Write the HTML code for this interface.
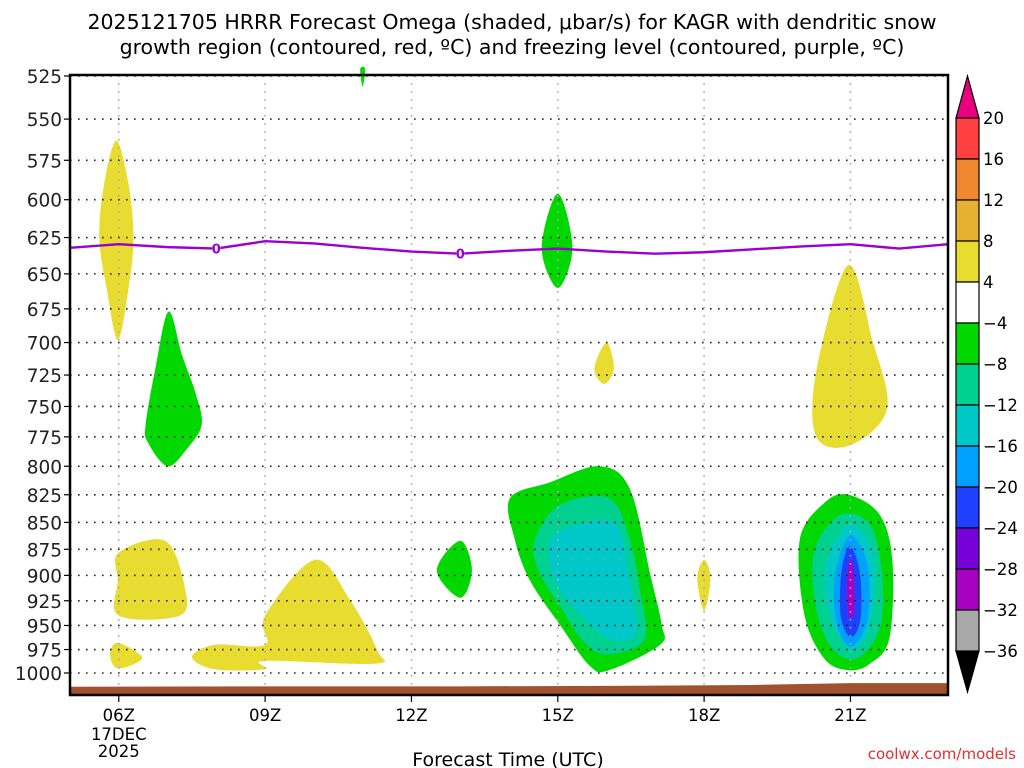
<!DOCTYPE html>
<html><head><meta charset="utf-8"><style>
html,body{margin:0;padding:0;background:#fff}
svg{display:block;font-family:"DejaVu Sans","Liberation Sans",sans-serif}
</style></head><body>
<svg id="chart" width="1024" height="768" viewBox="0 0 1024 768">
<text x="512" y="29" text-anchor="middle" font-size="20.5">2025121705 HRRR Forecast Omega (shaded, μbar/s) for KAGR with dendritic snow</text>
<text x="512" y="54" text-anchor="middle" font-size="20.5">growth region (contoured, red, ºC) and freezing level (contoured, purple, ºC)</text>
<g id="fills"></g>
<g id="grid"></g>
<g id="ground"></g>
<g id="frz"></g>
<rect x="70" y="75" width="878" height="620" fill="none" stroke="#000" stroke-width="2.5"/>
<g id="yaxis"></g>
<g id="xaxis"></g>
<text x="508" y="766" text-anchor="middle" font-size="19">Forecast Time (UTC)</text>
<text x="1016" y="759" text-anchor="end" font-size="15" fill="#e03030">coolwx.com/models</text>
<g id="cbar"></g>
</svg>
<script>
const pressureTicks=[525,550,575,600,625,650,675,700,725,750,775,800,825,850,875,900,925,950,975,1000];
const hourTicks=[6,9,12,15,18,21];
const hourLabels=["06Z","09Z","12Z","15Z","18Z","21Z"];
const cbarLevels=["20","16","12","8","4","-4","-8","-12","-16","-20","-24","-28","-32","-36"];
const cbarColors=["#ff4040","#f08830","#e8b030","#e8dc30","#ffffff","#00d800","#00d090","#00c8c8","#00a0ff","#2040ff","#7800d8","#a800c0","#a8a8a8"];
const freezingLine=[[5,632],[6,629.5],[7,631.5],[8,632.5],[9,627.5],[10,629],[11,632],[12,634.5],[13,636],[14,634],[15,632.5],[16,634.5],[17,636],[18,635],[19,633],[20,631],[21,629.5],[22,632.5],[23,629.5]];
const freezingLabels=[[8,632.5],[13,636]];
const groundLine=[[5,1015],[9,1014.5],[13,1014.5],[16,1014],[19,1013],[21,1011],[23,1011]];
const blobs=[
 {c:"#e8dc30",p:[[5.95,563],[6.2,590],[6.3,625],[6.2,660],[5.98,698],[5.75,660],[5.6,625],[5.7,590]]},
 {c:"#00d800",p:[[7.02,677],[7.3,710],[7.58,740],[7.7,765],[7.4,785],[7.0,800],[6.6,780],[6.55,765],[6.75,720]]},
 {c:"#00d800",p:[[10.95,521],[11.05,521],[11.0,531]]},
 {c:"#00d800",p:[[15,596],[15.3,632],[15,660],[14.67,632]]},
 {c:"#e8dc30",p:[[16,700],[16.15,720],[15.95,732],[15.75,720]]},
 {c:"#e8dc30",p:[[20.95,644],[21.45,698],[21.75,752],[21,782],[20.3,775],[20.3,722]]},
 {c:"#e8dc30",p:[[6.0,878],[6.95,867],[7.35,911],[7.25,940],[6.0,940],[5.98,905]]},
 {c:"#e8dc30",p:[[5.98,968],[6.48,984],[5.98,995],[5.82,980]]},
 {c:"#e8dc30",p:[[7.5,983],[7.97,970],[9,970],[9,940],[10.02,885],[10.74,924],[11.3,976],[11.25,990],[9,987],[9,996],[7.97,996]]},
 {c:"#00d800",p:[[13,867],[13.24,895],[13,922],[12.52,895]]},
 {c:"#e8dc30",p:[[18,885],[18.13,903],[18,935],[17.86,903]]},
 {c:"#00d800",p:[[14.02,828],[14.84,814],[15.86,800],[16.48,820],[16.9,900],[17.13,949],[17.1,970],[16.05,997],[15.65,992],[15.04,949],[14.43,905],[14.12,866]]},
 {c:"#00d090",p:[[14.53,866],[15.04,834],[16.05,828],[16.48,866],[16.68,914],[16.78,964],[16.05,980],[15.55,968],[15.04,930],[14.6,895]]},
 {c:"#00c8c8",p:[[14.84,866],[15.45,852],[16.2,852],[16.48,905],[16.6,958],[16.05,964],[15.45,938],[14.94,905]]},
 {c:"#00d800",p:[[19.96,866],[20.47,832],[20.96,825],[21.6,843],[21.86,886],[21.8,963],[21.4,990],[20.96,997],[20.47,985],[20.06,940]]},
 {c:"#00d090",p:[[20.27,875],[20.8,843],[21.4,852],[21.64,895],[21.6,953],[21.1,985],[20.57,970],[20.27,925]]},
 {c:"#00c8c8",p:[[20.53,886],[20.96,852],[21.4,871],[21.5,919],[21.3,964],[20.9,972],[20.53,930]]},
 {c:"#00a0ff",p:[[20.7,895],[21.0,862],[21.35,890],[21.35,945],[21.0,972],[20.7,945]]},
 {c:"#2040ff",p:[[20.82,895],[21.0,872],[21.2,900],[21.2,945],[21.0,962],[20.8,940]]},
 {c:"#a800c0",p:[[20.97,888],[21.04,888],[21.08,914],[21.06,940],[20.96,938],[20.93,912]]}
];
const NS="http://www.w3.org/2000/svg";
const X0=70,X1=948,H0=5,H1=23,Y0=76,Y1=673,P0=525,P1=1000;
const xs=h=>X0+(h-H0)/(H1-H0)*(X1-X0);
const ys=p=>Y0+(Math.log(p)-Math.log(P0))/(Math.log(P1)-Math.log(P0))*(Y1-Y0);
function mk(tag,attrs,parent,txt){const e=document.createElementNS(NS,tag);for(const k in attrs)e.setAttribute(k,attrs[k]);if(txt!==undefined)e.textContent=txt;parent.appendChild(e);return e;}
function smoothClosed(pts){const n=pts.length;let d=`M${pts[0][0]},${pts[0][1]}`;for(let i=0;i<n;i++){const p0=pts[(i-1+n)%n],p1=pts[i],p2=pts[(i+1)%n],p3=pts[(i+2)%n];const c1=[p1[0]+(p2[0]-p0[0])/6,p1[1]+(p2[1]-p0[1])/6],c2=[p2[0]-(p3[0]-p1[0])/6,p2[1]-(p3[1]-p1[1])/6];d+=`C${c1[0]},${c1[1]} ${c2[0]},${c2[1]} ${p2[0]},${p2[1]}`;}return d+"Z";}
const fills=document.getElementById('fills');
blobs.forEach((b,i)=>{const pts=b.p.map(q=>[xs(q[0]),ys(q[1])]);const e=mk('path',{d:smoothClosed(pts),fill:b.c},fills);

});
const grid=document.getElementById('grid'),yax=document.getElementById('yaxis'),xax=document.getElementById('xaxis');
pressureTicks.forEach(p=>{const y=ys(p);
 const l=mk('line',{x1:X0,x2:X1,y1:y,y2:y,stroke:'#222','stroke-width':1.6,'stroke-dasharray':'1.6 6.4'},grid);
 
 
 mk('line',{x1:X0-6,x2:X0,y1:y,y2:y,stroke:'#000','stroke-width':1.2},yax);
 const t=mk('text',{x:X0-8,y:y+7,'text-anchor':'end','font-size':18.5,fill:'#222'},yax,String(p));
 
 });
hourTicks.forEach((h,i)=>{const x=xs(h);
 const l=mk('line',{x1:x,x2:x,y1:75,y2:693,stroke:'#aaa','stroke-width':1.6,'stroke-dasharray':'1.6 6.4'},grid);
 
 
 mk('line',{x1:x,x2:x,y1:695,y2:702,stroke:'#000','stroke-width':1.2},xax);
 const t=mk('text',{x:x,y:721,'text-anchor':'middle','font-size':16.5},xax,hourLabels[i]);
 
 });
const d1=mk('text',{x:xs(6),y:740,'text-anchor':'middle','font-size':16.5},xax,'17DEC');


const d2=mk('text',{x:xs(6),y:757,'text-anchor':'middle','font-size':16.5},xax,'2025');


const gnd=document.getElementById('ground');
let gd=`M${X0},695`;groundLine.forEach(q=>{gd+=`L${xs(q[0])},${ys(q[1])}`;});gd+=`L${X1},695Z`;
const gp=mk('path',{d:gd,fill:'#a0522d'},gnd);


const frz=document.getElementById('frz');
const fp=mk('path',{d:'M'+freezingLine.map(q=>xs(q[0])+','+ys(q[1])).join('L'),fill:'none',stroke:'#9b00d0','stroke-width':2.4,'stroke-linejoin':'round'},frz);


freezingLabels.forEach(q=>{const x=xs(q[0]),y=ys(q[1]);
 mk('rect',{x:x-4,y:y-6,width:8,height:12,fill:'#fff'},frz);
 const t=mk('text',{x:x,y:y+5,'text-anchor':'middle','font-size':13,fill:'#9b00d0','font-weight':'bold'},frz,'0');
 
 });
const cb=document.getElementById('cbar');const CX=956,CW=23,CT=118,CB=651,seg=(CB-CT)/cbarColors.length;
const tu=mk('path',{d:`M${CX},${CT}L${CX+CW/2},76L${CX+CW},${CT}Z`,fill:'#e8007f',stroke:'#000','stroke-width':1.2},cb);


const td=mk('path',{d:`M${CX},${CB}L${CX+CW/2},692L${CX+CW},${CB}Z`,fill:'#000',stroke:'#000','stroke-width':1.2},cb);


cbarColors.forEach((c,i)=>{const r=mk('rect',{x:CX,y:CT+i*seg,width:CW,height:seg,fill:c,stroke:'#000','stroke-width':1.2},cb);
 
 });
cbarLevels.forEach((v,i)=>{const yy=(i<=4)?CT+i*seg:CT+i*seg;
 const t=mk('text',{x:983,y:yy+6,'font-size':16.5},cb,v.replace('-','\u2212'));
 
 });
</script>
</body></html>
